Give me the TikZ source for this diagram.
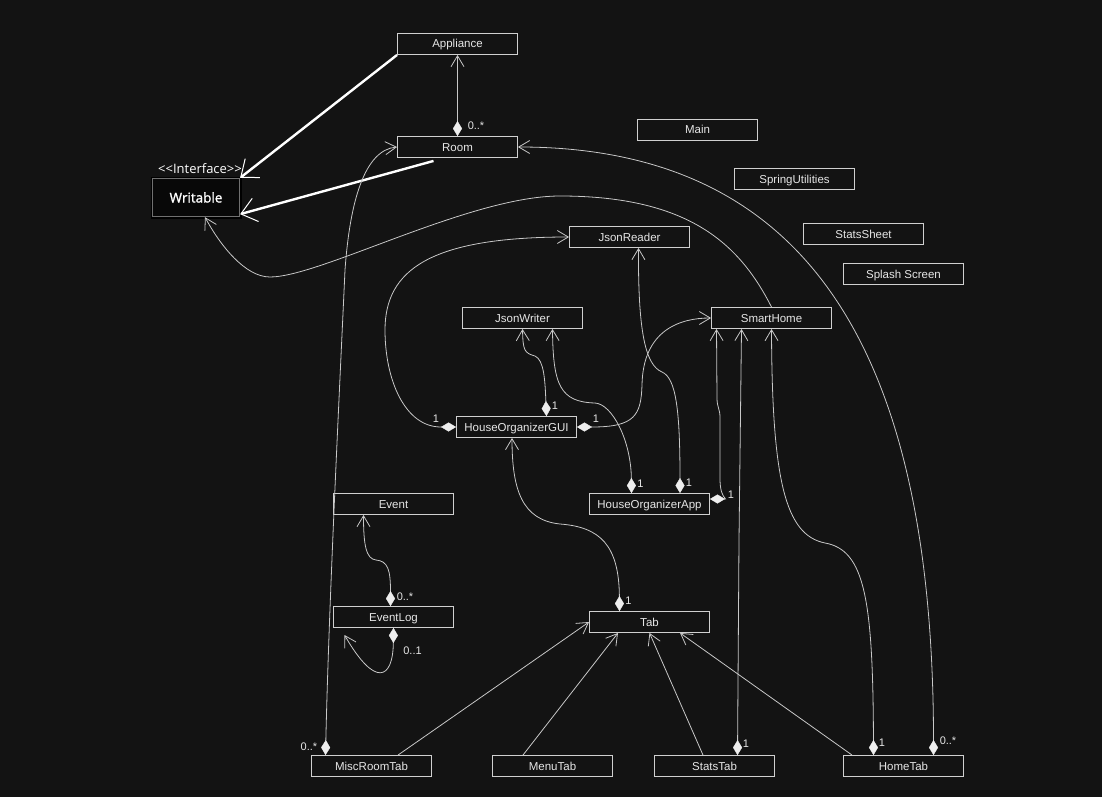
\documentclass[tikz,border=0pt]{standalone}
\usepackage{fontspec}
\setmainfont{Liberation Sans}
\newfontfamily\wfont{Open Sans}
\newfontfamily\wsemi[FakeBold=1.3]{Open Sans}
\usetikzlibrary{arrows.meta}
\definecolor{bg}{HTML}{131313}
\definecolor{boxc}{HTML}{D0D0D0}
\definecolor{txt}{HTML}{E6E6E6}
\definecolor{linec}{HTML}{C8C8C8}
\definecolor{diac}{HTML}{EEEEEE}
\definecolor{wfill}{HTML}{080808}
\definecolor{wgray}{HTML}{707070}
\tikzset{
  nav/.tip={Straight Barb[length=11pt,width=13pt,line width=0.8pt]},
  bign/.tip={Straight Barb[length=15pt,width=24pt,line width=1pt]},
  dia/.tip={Diamond[length=15pt,width=9pt,color=diac,fill=diac,line width=0.3pt]},
  cls/.style={draw=boxc, line width=0.9pt, fill=bg, minimum width=120pt, minimum height=21pt,
    inner sep=0pt, text height=8pt, text depth=0pt, text=txt, font=\fontsize{11.5}{12}\selectfont},
  wbox/.style={draw=wgray, line width=1.3pt, fill=wfill, preaction={draw=black, line width=4pt},
    minimum width=87pt, minimum height=38pt, inner sep=0pt, text height=10pt, text depth=0pt, text=white,
    font=\wsemi\fontsize{13.5}{14}\selectfont},
  ifc/.style={inner sep=0pt, text=white, font=\wfont\fontsize{13}{14}\selectfont},
  conn/.style={draw=linec, line width=0.8pt},
  wl/.style={draw=white, line width=2.4pt},
  mult/.style={inner sep=0pt, text=txt, font=\fontsize{11}{12}\selectfont},
}
\begin{document}
\begin{tikzpicture}[x=1pt,y=-1pt]
\useasboundingbox (0,0) rectangle (1102,797);
\fill[bg] (0,0) rectangle (1102,797);

% classes
\node[cls] (app) at (457.5,44) {Appliance};
\node[cls] (room) at (457.5,147) {Room};
\node[cls] (main) at (697.5,130) {Main};
\node[cls] (spring) at (794.5,179) {SpringUtilities};
\node[cls] (sheet) at (863.5,234) {StatsSheet};
\node[cls] (splash) at (903.5,274) {Splash Screen};
\node[cls] (jr) at (629.5,237) {JsonReader};
\node[cls] (jw) at (522.5,318) {JsonWriter};
\node[cls] (sh) at (771.5,318) {SmartHome};
\node[cls] (gui) at (516.5,427) {HouseOrganizerGUI};
\node[cls] (happ) at (649.5,504) {HouseOrganizerApp};
\node[cls] (event) at (393.5,504) {Event};
\node[cls] (elog) at (393.5,617) {EventLog};
\node[cls] (tab) at (649.5,622) {Tab};
\node[cls] (misc) at (371.5,766) {MiscRoomTab};
\node[cls] (menu) at (552.5,766) {MenuTab};
\node[cls] (stt) at (714.5,766) {StatsTab};
\node[cls] (home) at (903.5,766) {HomeTab};
\node[wbox] (wr) at (196,197.5) {Writable};
\node[ifc] (iface) at (200,168.5) {<{}<Interface>{}>};

% realization (thick)
\draw[wl, -bign] (app.south west) -- (wr.north east);
\draw[wl, -bign] ([xshift=-24pt,yshift=-3pt]room.south) -- ([yshift=3pt]wr.south east);

% associations
\draw[conn, dia-nav] (room.north) -- (app.south);
\draw[conn, dia-nav] ([xshift=30pt]home.north) .. controls (933.5,335) and (797,147) .. (room.east);
\draw[conn, -nav] (sh.north) .. controls (740,245) and (690,196) .. (560,196)
   .. controls (470,196) and (320,277) .. (270,277)
   .. controls (245,277) and (220,245) .. ([xshift=9pt]wr.south);
\draw[conn, dia-nav] ([xshift=-46pt]misc.north) .. controls (329,600) and (340,380) .. (345,270)
   .. controls (350,200) and (365,150) .. (room.west);
\draw[conn, dia-nav] (gui.west) -- (441,427) .. controls (405,427) and (385,380) .. (385,330)
   .. controls (385,270) and (430,237) .. (jr.west);
\draw[conn, dia-nav] ([xshift=30pt]gui.north) .. controls (545,380) and (544,360) .. (535,356)
   .. controls (524,353) and (523,350) .. (jw.south);
\draw[conn, dia-nav] (gui.east) -- (592,427) .. controls (635,427) and (641,415) .. (642,385)
   .. controls (643,330) and (680,318) .. (sh.west);
\draw[conn, dia-nav] ([xshift=-18pt]happ.north) .. controls (631,440) and (612,404) .. (595,403)
   .. controls (560,402) and (553,385) .. ([xshift=30pt]jw.south);
\draw[conn, dia-nav] ([xshift=30.5pt]happ.north) .. controls (680,410) and (676,378) .. (662,372)
   .. controls (645,365) and (638,330) .. ([xshift=9pt]jr.south);
\draw[conn, dia-nav] ([yshift=5pt]happ.east) -- (725.5,499) .. controls (722,495) and (720,490) .. (720,478)
   -- (720,418) .. controls (720,408) and (717,408) .. (717,398) -- ([xshift=-55pt]sh.south);
\draw[conn, dia-nav] ([xshift=23pt]stt.north) -- (739,540) -- ([xshift=-30pt]sh.south);
\draw[conn, dia-nav] ([xshift=-30pt]home.north) .. controls (873,600) and (865,550) .. (825,543)
   .. controls (785,535) and (772,480) .. (sh.south);
\draw[conn, dia-nav] ([xshift=-30pt]tab.north) .. controls (619,545) and (600,527) .. (560,524)
   .. controls (522,520) and (512,490) .. ([xshift=-4.5pt]gui.south);
\draw[conn, dia-nav] ([xshift=-3pt]elog.north) .. controls (390.5,570) and (388,561) .. (376,560)
   .. controls (366,559) and (363.5,545) .. ([xshift=-30pt]event.south);
\coordinate (loopend) at (344.5,635);
\draw[conn, dia-nav] (elog.south) .. controls (393,680) and (375,688) .. (loopend);

% generalizations to Tab
\draw[conn, -nav] ([xshift=26.5pt]misc.north) -- (tab.west);
\draw[conn, -nav] ([xshift=-29.5pt]menu.north) -- ([xshift=-31.5pt]tab.south);
\draw[conn, -nav] ([xshift=-11.5pt]stt.north) -- (tab.south);
\draw[conn, -nav] ([xshift=-51.5pt]home.north) -- ([xshift=30.5pt]tab.south);

% multiplicities
\node[mult] (m1) at (476,126) {0..*};
\node[mult] (m2) at (948,741) {0..*};
\node[mult] (m3) at (309,747) {0..*};
\node[mult] (m4) at (405,597) {0..*};
\node[mult] (m5) at (412.5,651) {0..1};
\node[mult] (m6) at (628.5,601) {1};
\node[mult] (m7) at (436,419) {1};
\node[mult] (m8) at (555,406) {1};
\node[mult] (m9) at (596,419) {1};
\node[mult] (m10) at (640.5,484) {1};
\node[mult] (m11) at (689,483) {1};
\node[mult] (m12) at (731,494.5) {1};
\node[mult] (m13) at (746,743.5) {1};
\node[mult] (m14) at (882,743) {1};
\end{tikzpicture}
\end{document}
